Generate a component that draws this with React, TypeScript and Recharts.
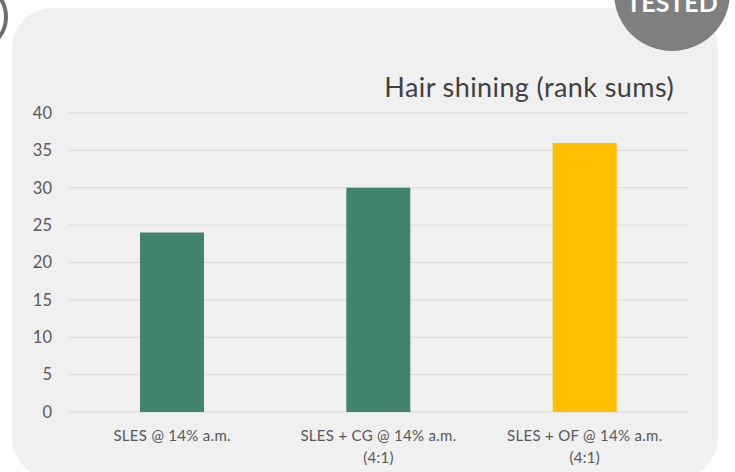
import React from 'react';
import { BarChart, Bar, XAxis, YAxis, CartesianGrid, Cell } from 'recharts';

const categories = ['SLES @ 14% a.m.', 'SLES + CG @ 14% a.m.\n(4:1)', 'SLES + OF @ 14% a.m.\n(4:1)'];
const rankSums = [24, 30, 36];
const barColors = ['#41836E', '#41836E', '#FFC000'];
const yTicks = [0, 5, 10, 15, 20, 25, 30, 35, 40];
const edgeTicks = [0, 1, 2, 3];

const data = categories.map((name, i) => ({ name, value: rankSums[i] }));

const FONT = 'Lato, "Open Sans", sans-serif';

const CategoryTick = ({ x, y, payload }: any) => {
  const lines = String(payload.value).split('\n');
  return (
    <text x={x} y={y} textAnchor="middle" fill="#595959" fontSize={15} letterSpacing={0.3} fontFamily={FONT}>
      {lines.map((line, i) => (
        <tspan key={i} x={x} dy={i === 0 ? 21 : 22}>
          {line}
        </tspan>
      ))}
    </text>
  );
};

const App: React.FC = () => {
  return (
    <div style={{ position: 'absolute', left: 0, top: 0, width: 735, height: 472, overflow: 'hidden', background: '#fff', fontFamily: FONT }}>
      {/* slide decorations around the chart */}
      <div style={{ position: 'absolute', left: -62, top: -18, width: 62, height: 62, borderRadius: '50%', border: '4px solid #6f6f6f' }} />
      <div style={{ position: 'absolute', left: 48, top: -25, fontSize: 23, fontWeight: 700, color: '#3E8C2F', lineHeight: '28px', whiteSpace: 'nowrap' }}>
        HAIR SHINING
      </div>
      <div style={{ position: 'absolute', left: 12, top: 8, width: 706, height: 470, borderRadius: 40, background: '#F0F0F0' }} />
      <div style={{ position: 'absolute', left: 614, top: -65, width: 116, height: 116, borderRadius: '50%', background: '#7F7F7F' }} />
      <div style={{ position: 'absolute', left: 614, top: -13, width: 116, textAlign: 'center', fontSize: 25, fontWeight: 700, color: '#fff', lineHeight: '30px' }}>
        TESTED
      </div>
      <div style={{ position: 'absolute', right: 61, top: 71, fontSize: 27, letterSpacing: 0.4, color: '#404040', whiteSpace: 'nowrap', lineHeight: '32px' }}>
        Hair shining (rank sums)
      </div>

      <div style={{ position: 'absolute', left: 0, top: 0 }}>
        <BarChart width={735} height={472} data={data} margin={{ top: 113, right: 47, left: 0, bottom: 10 }}>
          <CartesianGrid horizontal vertical={false} stroke="#D9D9D9" />
          <XAxis
            xAxisId="edge"
            type="number"
            domain={[0, 3]}
            ticks={edgeTicks}
            allowDataOverflow
            height={49}
            tick={false}
            tickSize={5}
            tickLine={{ stroke: '#D9D9D9' }}
            axisLine={false}
          />
          <XAxis
            xAxisId="cat"
            dataKey="name"
            height={1}
            interval={0}
            tickLine={false}
            axisLine={false}
            tick={<CategoryTick />}
          />
          <YAxis
            width={69}
            domain={[0, 40]}
            ticks={yTicks}
            tickLine={false}
            axisLine={false}
            tickSize={0}
            tickMargin={17}
            tick={{ fill: '#595959', fontSize: 16.5, fontFamily: FONT }}
          />
          <Bar xAxisId="cat" dataKey="value" barSize={64} isAnimationActive={false}>
            {data.map((d, i) => (
              <Cell key={d.name} fill={barColors[i]} />
            ))}
          </Bar>
        </BarChart>
      </div>
    </div>
  );
};

export default App;
